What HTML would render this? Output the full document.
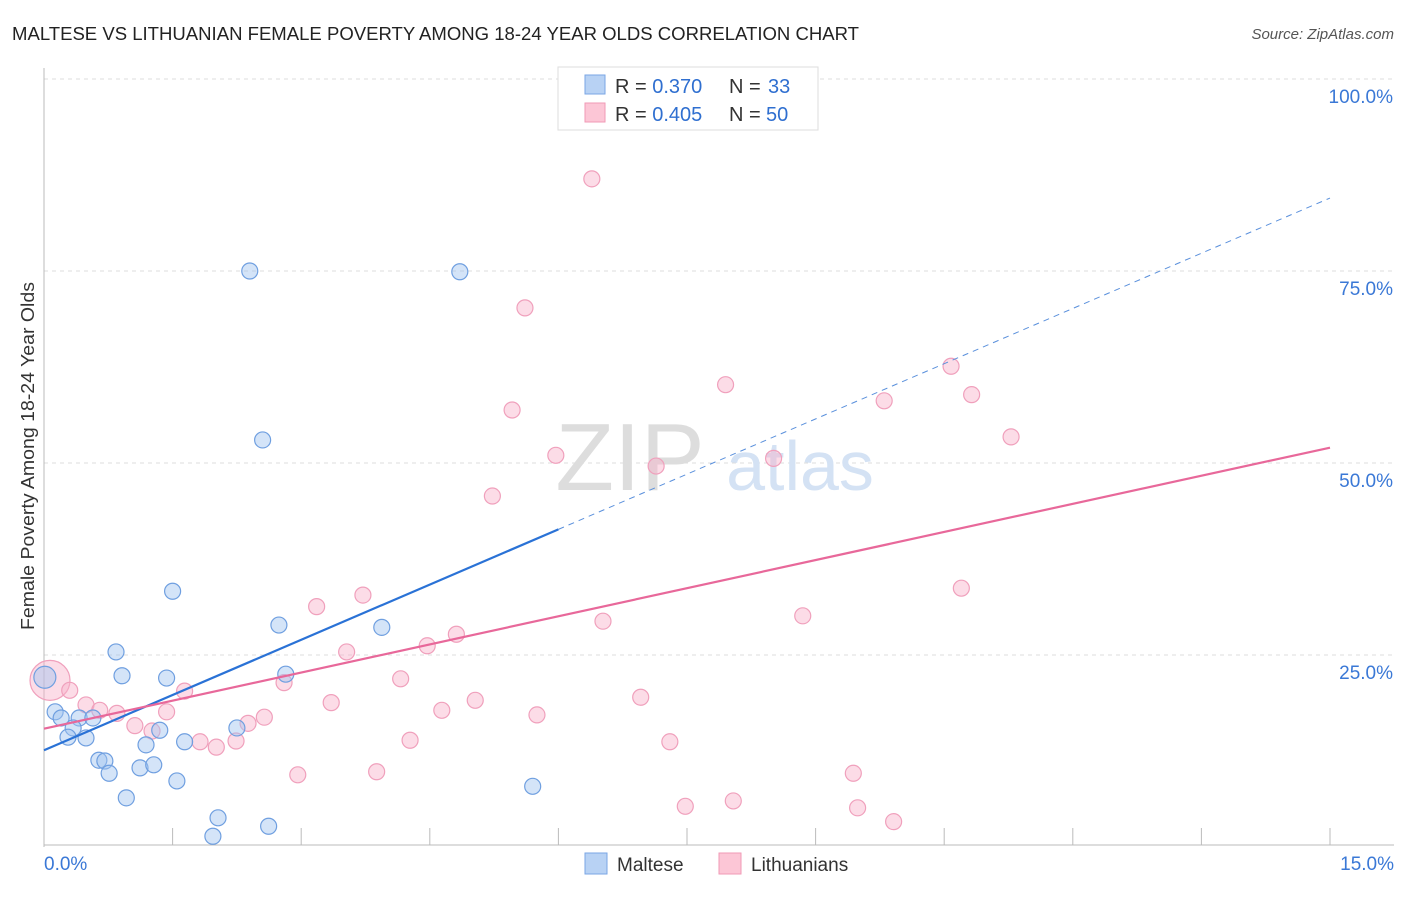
<!DOCTYPE html>
<html><head><meta charset="utf-8"><style>
body{margin:0;background:#fff;font-family:"Liberation Sans",sans-serif}
svg text{font-family:"Liberation Sans",sans-serif}
</style></head><body>
<svg id="chart" width="1406" height="892">
<text x="12" y="40" font-size="18" fill="#222" textLength="847" lengthAdjust="spacingAndGlyphs">MALTESE VS LITHUANIAN FEMALE POVERTY AMONG 18-24 YEAR OLDS CORRELATION CHART</text>
<text x="1394" y="39" font-size="15" fill="#555" font-style="italic" text-anchor="end">Source: ZipAtlas.com</text>
<g id="grid"></g>
<text x="630" y="490" font-size="96" fill="#ddd" font-family="Liberation Serif" text-anchor="middle">ZIP</text>
<text x="800" y="490" font-size="70" fill="#d4e2f4" text-anchor="middle">atlas</text>
<g id="axes"></g>
<g id="marks"></g>
<text x="34" y="456" font-size="18" fill="#333" text-anchor="middle" textLength="348" lengthAdjust="spacingAndGlyphs" transform="rotate(-90 34 456)">Female Poverty Among 18-24 Year Olds</text>
<g>
<rect x="558" y="67" width="260" height="63" fill="#fff" stroke="#ddd"/>
<rect x="585" y="75" width="20" height="19" fill="#b8d2f4" stroke="#7aa6e4"/>
<rect x="585" y="103" width="20" height="19" fill="#fcc6d6" stroke="#f09ab6"/>
<text x="615" y="93" font-size="20" fill="#333">R = <tspan fill="#2f6fd0">0.370</tspan><tspan x="729">N = </tspan><tspan x="768" fill="#2f6fd0">33</tspan></text>
<text x="615" y="121" font-size="20" fill="#333">R = <tspan fill="#2f6fd0">0.405</tspan><tspan x="729">N = </tspan><tspan x="766" fill="#2f6fd0">50</tspan></text>
</g>
<g>
<rect x="585" y="853" width="22" height="21" fill="#b8d2f4" stroke="#7aa6e4"/>
<text x="617" y="871" font-size="19" fill="#333">Maltese</text>
<rect x="719" y="853" width="22" height="21" fill="#fcc6d6" stroke="#f09ab6"/>
<text x="751" y="871" font-size="19" fill="#333">Lithuanians</text>
</g>
</svg>
<script>
const malteseX=[2.40,4.85,2.55,1.50,2.74,3.94,0.84,0.91,1.43,2.82,0.01,0.13,0.20,0.41,0.57,0.34,0.28,0.49,1.35,2.25,1.19,1.64,0.64,0.71,0.76,1.12,1.28,1.55,0.96,5.70,2.03,2.62,1.97];
const malteseY=[75.0,74.9,53.0,33.3,28.9,28.6,25.4,22.3,22.0,22.5,22.1,17.6,16.8,16.8,16.8,15.5,14.3,14.2,15.2,15.5,13.3,13.7,11.3,11.2,9.6,10.3,10.7,8.6,6.4,7.9,3.8,2.7,1.4];
const lithX=[6.39,5.61,5.46,7.95,10.58,10.82,9.80,11.28,5.97,7.14,8.51,5.23,10.70,3.18,3.72,8.85,6.52,4.81,4.47,3.53,0.07,0.30,2.80,4.16,1.64,0.49,3.35,5.03,6.96,0.65,0.85,1.43,2.57,4.64,5.75,1.06,2.38,1.26,1.82,2.01,2.24,4.27,7.30,2.96,3.88,9.44,7.48,8.04,9.49,9.91];
const lithY=[87.0,70.2,56.9,60.2,62.6,58.9,58.1,53.4,51.0,49.6,50.6,45.7,33.7,31.3,32.8,30.1,29.4,27.7,26.2,25.4,21.7,20.4,21.4,21.9,20.3,18.5,18.8,19.1,19.5,17.8,17.4,17.6,16.9,17.8,17.2,15.8,16.1,15.1,13.7,13.0,13.8,13.9,13.7,9.4,9.8,9.6,5.3,6.0,5.1,3.3];
const malteseFit=[12.6,84.5];
const lithFit=[15.4,52.0];
const yTicks=[25,50,75,100];
const yTickLabels=["25.0%","50.0%","75.0%","100.0%"];
const xTicks=[0,1.5,3,4.5,6,7.5,9,10.5,12,13.5,15];

const NS="http://www.w3.org/2000/svg";
const X=v=>44+v/15*1286;
const Y=v=>847-v/25*192;
function mk(tag,attrs,parent){const e=document.createElementNS(NS,tag);for(const k in attrs)e.setAttribute(k,attrs[k]);document.getElementById(parent).appendChild(e);return e;}
yTicks.forEach((t,i)=>{
 const l=mk('line',{x1:44,x2:1394,y1:Y(t),y2:Y(t),stroke:'#ddd','stroke-dasharray':'4,4'},'grid');
 
 
 const tx=mk('text',{x:1393,y:Y(t)+24,'font-size':19,fill:'#3a78d6','text-anchor':'end'},'axes');
 tx.textContent=yTickLabels[i];
 
 
});
const ax=mk('line',{x1:44,x2:44,y1:68,y2:847,stroke:'#bbb'},'axes');


const bx=mk('line',{x1:44,x2:1394,y1:845,y2:845,stroke:'#bbb'},'axes');


xTicks.forEach(t=>{
 const l=mk('line',{x1:X(t),x2:X(t),y1:828,y2:845,stroke:'#bbb'},'axes');
 
 
});
const xl0=mk('text',{x:44,y:870,'font-size':19,fill:'#3a78d6'},'axes');xl0.textContent='0.0%';


const xl1=mk('text',{x:1394,y:870,'font-size':19,fill:'#3a78d6','text-anchor':'end'},'axes');xl1.textContent='15.0%';



lithX.forEach((x,i)=>{
 const c=mk('circle',{cx:X(x),cy:Y(lithY[i]),r:i==20?20:8,fill:'rgba(248,178,202,0.45)',stroke:'#f0a0bc','stroke-width':1.2},'marks');
 
 
});
malteseX.forEach((x,i)=>{
 const c=mk('circle',{cx:X(x),cy:Y(malteseY[i]),r:i==10?11:8,fill:'rgba(160,196,240,0.45)',stroke:'#6f9fe0','stroke-width':1.2},'marks');
 
 
});
const fm=v=>malteseFit[0]+(malteseFit[1]-malteseFit[0])*v/15;
const fl=v=>lithFit[0]+(lithFit[1]-lithFit[0])*v/15;
const t1=mk('line',{x1:X(0),y1:Y(fm(0)),x2:X(6),y2:Y(fm(6)),stroke:'#2a72d6','stroke-width':2.2},'marks');


const t2=mk('line',{x1:X(6),y1:Y(fm(6)),x2:X(15),y2:Y(fm(15)),stroke:'#5a90dc','stroke-width':1,'stroke-dasharray':'6,5'},'marks');


const t3=mk('line',{x1:X(0),y1:Y(fl(0)),x2:X(15),y2:Y(fl(15)),stroke:'#e8689a','stroke-width':2.2},'marks');


</script>
</body></html>
